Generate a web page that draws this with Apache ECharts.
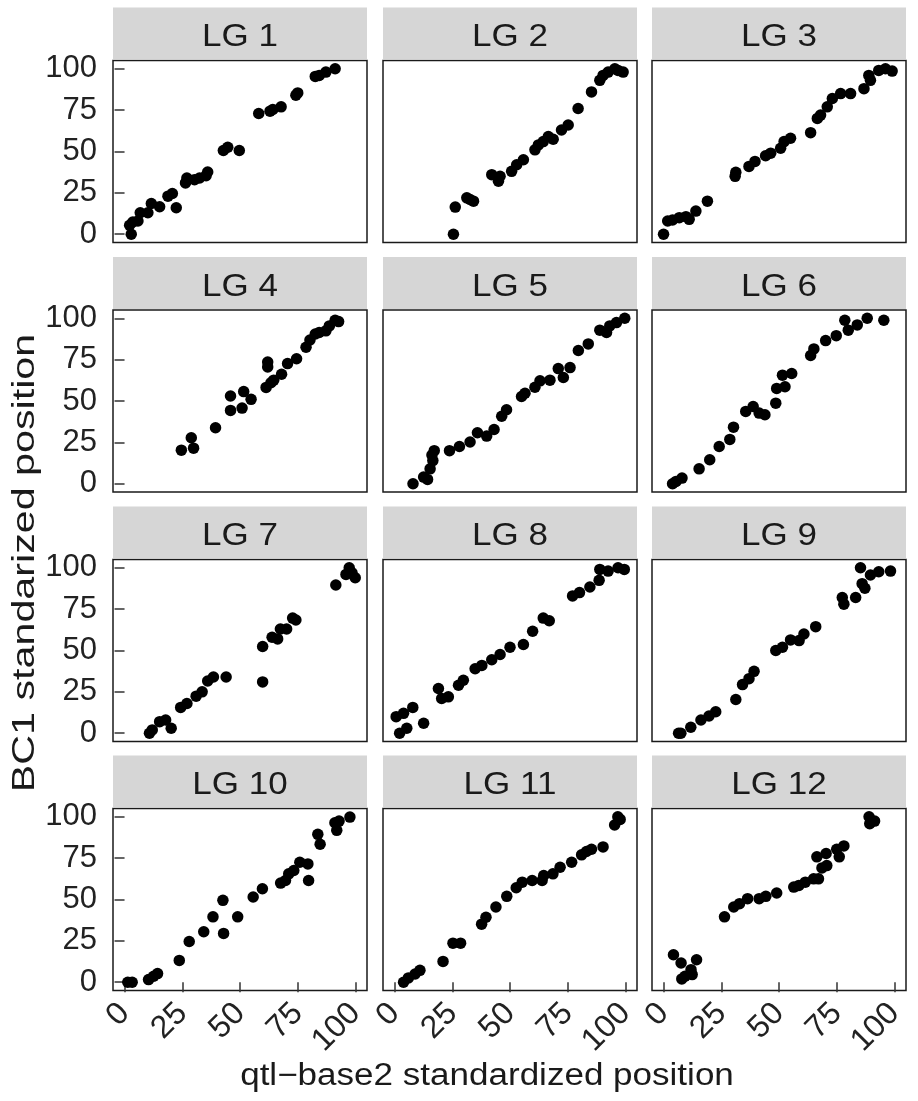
<!DOCTYPE html>
<html>
<head>
<meta charset="utf-8">
<script src="https://cdn.jsdelivr.net/npm/echarts@6/dist/echarts.min.js"></script>
<style>
html,body{margin:0;padding:0;background:#fff;}
#chart{width:918px;height:1101px;}
</style>
</head>
<body>
<div id="chart"></div>
<script>
// ---- data ----
const panelNames = ['LG 1','LG 2','LG 3','LG 4','LG 5','LG 6','LG 7','LG 8','LG 9','LG 10','LG 11','LG 12'];
const tickValues = [0, 25, 50, 75, 100];
const xTitle = 'qtl\u2212base2 standardized position';
const yTitle = 'BC1 standarized position';

const lg1 = [[2.9,0],[2.2,5.4],[3.6,7.4],[5.8,8],[6.8,13],[10.1,13],[11.6,18.6],[15.2,16.6],[18.8,23],[20.7,24.6],[22.4,16],[26.4,31],[27,34],[30.3,33],[32.5,34],[35.3,35.4],[36,37.6],[42.8,50.6],[44.7,52.6],[49.7,50.6],[58.1,73],[63,74.4],[64.2,75.4],[67.8,77],[74.2,84],[75,85.4],[82.6,95.4],[84.3,96],[87.2,98],[91.2,100]];
const lg2 = [[25.5,0],[26.3,16.4],[31.3,22],[32.7,21],[34.2,20],[42.1,36],[45,32],[45.7,35],[50.7,38],[52.9,42],[55.8,45],[60.8,51],[62.3,54],[64.4,56],[66.6,59],[68.7,57.4],[72.3,63],[75.2,66],[79.5,76],[85.3,86],[88.9,93],[90.3,96],[92.5,98],[95.4,100],[96.8,99],[99,98]];
const lg3 = [[0,0],[1.8,8],[3.9,8.6],[6.8,10],[9.7,10.6],[11.1,9],[14,14],[19,20],[31,35],[31.3,37.4],[37,41],[39.6,44],[44.2,47.4],[46.4,49],[50.7,52],[52.2,56],[55,58],[63.7,61.4],[66.6,70],[68,72],[70.9,77],[73.1,82],[76.7,85],[81,85],[86.8,88],[88.9,96],[89.6,93],[93.2,99],[96.1,100],[99,98.6]];
const lg4 = [[24.6,20.3],[28.9,27.8],[29.9,21.5],[39.4,33.8],[45.9,53],[45.9,44.3],[50.9,45.7],[51.6,55.7],[54.8,51],[61.3,58.2],[62,73.5],[62,70.6],[63.4,61],[64.6,62.6],[68,66.2],[70.6,72.6],[74.5,75.5],[78.6,82.5],[80.3,86.9],[82.6,90.5],[84.3,91.4],[87.2,92.4],[88.7,95.4],[91.2,98.8],[92.7,98]];
const lg5 = [[8,0],[12.6,4],[14.3,2.6],[15.4,9],[16.6,14],[16.2,17.3],[17.2,20],[23.8,20],[28.1,22.5],[32.7,25.2],[35.9,30.8],[39.9,28.8],[43.1,32.8],[46.4,40.8],[48.5,44.7],[55,52.7],[56.5,54.7],[60.8,58.3],[63,62.2],[67.3,62.6],[70.9,69.6],[73.1,64.2],[76,70.2],[79.6,80.5],[83.9,84.5],[88.9,92.8],[91.8,91.4],[93.2,95.4],[96.1,97.4],[99.7,100]];
const lg6 = [[3.9,0],[5.4,1.4],[8,3.4],[15.4,9],[20,14.5],[24.1,22.5],[28.7,26.8],[30.3,34.2],[35.6,43.7],[38.8,46.7],[41.4,42.7],[43.9,41.7],[48.6,48.7],[49,57.6],[52.6,58.6],[51.5,65.6],[55.5,66.6],[63.7,77.5],[65.1,81.5],[70.2,86.5],[74.8,89.5],[78.5,98.8],[80,92.8],[83.9,96],[88.2,100],[95.4,98.8]];
const lg7 = [[10.8,0],[12,2],[15.2,7],[17.8,8],[20.2,3],[24.3,15.6],[27,18],[31,22.4],[33.6,25],[36,31.6],[38.5,34],[44,34],[59.8,31],[59.8,52.4],[63.9,58],[66.3,57],[67.5,63],[70.2,63],[72.8,69.6],[74.2,68.4],[91.5,89.6],[95.9,96],[97.3,100],[98.5,97],[99.9,94]];
const lg8 = [[2.2,0],[5.3,3],[12.6,6],[0.7,10],[3.9,12],[7.9,15.6],[19,27],[20.4,21],[23.3,22],[27.7,29],[29.8,32],[34.9,39],[37.8,41],[42.1,44.4],[45.7,47.6],[50,52],[55.8,53.6],[59.8,61.6],[64.4,69.6],[67,68],[77.1,83],[80.1,85],[84.6,88.4],[88.6,92.4],[88.9,99],[92.5,98],[96.8,100],[99.5,99]];
const lg9 = [[6.5,0],[7.5,0],[11.8,3.6],[16.2,8],[19.7,10.4],[22.6,13],[31.3,20.4],[34.2,29.4],[37,33],[39.2,37.4],[48.6,50],[51.5,52],[55,56.4],[58.7,56],[60.8,60],[65.9,64.4],[77.4,82],[78.1,78],[83.2,82],[85.3,100],[86,90.4],[87.2,87.6],[89.6,95.6],[93.2,97.6],[98.3,98]];
const lg10 = [[1.4,0],[3.3,0],[10.4,1.6],[12.6,3.6],[14.3,5.2],[23.7,13.2],[28,24.6],[34.3,30.5],[38.3,39.5],[42.6,49.5],[42.9,29.5],[49,39.5],[55.7,51.5],[59.7,56.5],[67.6,59.9],[69.7,61.5],[71.1,65.5],[73.3,67.5],[75.9,72.5],[79.4,71.5],[79.7,61.5],[83.7,89.4],[84.7,83.4],[91.1,96.4],[91.9,91.8],[92.9,97.4],[97.6,99.8]];
const lg11 = [[3.9,0],[6,2.6],[8.9,5],[11,7.2],[21,12.6],[25.3,23.6],[28.6,23.6],[37.7,35.1],[39.6,39.3],[43.9,45.5],[48.6,51.9],[52.7,57.1],[55.3,60.5],[59.6,61.5],[63.9,61.5],[64.6,64.5],[68.6,65.5],[71.7,69.5],[76.7,72.5],[81,77],[83.1,79],[85.3,80.4],[90.3,81.8],[95.3,95],[96.7,100],[97.7,98.4]];
const lg12 = [[4.3,16.6],[7.6,11.6],[7.9,2],[9.3,3.6],[11.9,7.6],[12.4,4.6],[14.3,13.6],[26.4,39.5],[30.4,45.5],[32.9,47.5],[36.4,50.5],[41.4,50.5],[44.3,51.9],[49,53.9],[56.4,57.5],[58.6,58.5],[61.4,60.5],[65,62.5],[67.1,62.5],[68.6,69.1],[70.7,70.5],[66.4,75.8],[70.4,77.8],[76.1,75.8],[75,80.4],[78.1,82.4],[89,100],[89.3,95.8],[91.4,97.4]];
const panelData = [lg1, lg2, lg3, lg4, lg5, lg6, lg7, lg8, lg9, lg10, lg11, lg12];

// ---- layout ----
const FONT = '"Liberation Sans", Arial, Helvetica, sans-serif';
const W = 254, H = 182;
const colLeft = [113, 383, 652];
const rowTop = [60.5, 310, 559.5, 808.5];
const stripH = 52;

const chart = echarts.init(document.getElementById('chart'), null, {renderer: 'canvas'});

const grid = [], xAxis = [], yAxis = [], series = [], graphic = [];
panelNames.forEach((name, i) => {
  const r = Math.floor(i / 3), c = i % 3;
  grid.push({left: colLeft[c], top: rowTop[r], width: W, height: H, show: true,
    borderColor: '#1a1a1a', borderWidth: 1.5, backgroundColor: '#fff', containLabel: false});
  xAxis.push({gridIndex: i, type: 'value', min: -5, max: 105,
    splitLine: {show: false}, axisLine: {show: false},
    axisTick: {show: r === 3, length: 10, lineStyle: {color: '#333', width: 1.5}, customValues: tickValues},
    axisLabel: {show: r === 3, customValues: tickValues, rotate: 45, fontSize: 32, color: '#222', margin: 18, fontFamily: FONT}
  });
  yAxis.push({gridIndex: i, type: 'value', min: -5, max: 105,
    splitLine: {show: false}, axisLine: {show: false},
    axisTick: {show: c === 0, length: 10, lineStyle: {color: '#333', width: 1.5}, customValues: tickValues},
    axisLabel: {show: c === 0, customValues: tickValues, fontSize: 31, color: '#222', margin: 16, fontFamily: FONT}
  });
  series.push({type: 'scatter', xAxisIndex: i, yAxisIndex: i, data: panelData[i],
    symbol: 'circle', symbolSize: 11.5, itemStyle: {color: '#000', opacity: 1}, silent: true});
  graphic.push({type: 'rect', shape: {x: colLeft[c], y: rowTop[r] - stripH - 1, width: W, height: stripH},
    style: {fill: '#d6d6d6'}, silent: true});
  graphic.push({type: 'text', x: colLeft[c] + W / 2, y: rowTop[r] - stripH / 2 + 3, scaleX: 1.13,
    style: {text: name, fontSize: 31, fontFamily: FONT, fill: '#1a1a1a', align: 'center', verticalAlign: 'middle'}, silent: true});
});
graphic.push({type: 'text', x: 487, y: 1076, scaleX: 1.13, style: {text: xTitle, fontSize: 31, fontFamily: FONT, fill: '#1a1a1a', align: 'center', verticalAlign: 'middle'}, silent: true});
graphic.push({type: 'text', x: 25, y: 563, rotation: Math.PI / 2, scaleX: 1.33, style: {text: yTitle, fontSize: 31, fontFamily: FONT, fill: '#1a1a1a', align: 'center', verticalAlign: 'middle'}, silent: true});

chart.setOption({
  animation: false,
  backgroundColor: '#fff',
  grid, xAxis, yAxis, series, graphic
});
</script>
</body>
</html>
